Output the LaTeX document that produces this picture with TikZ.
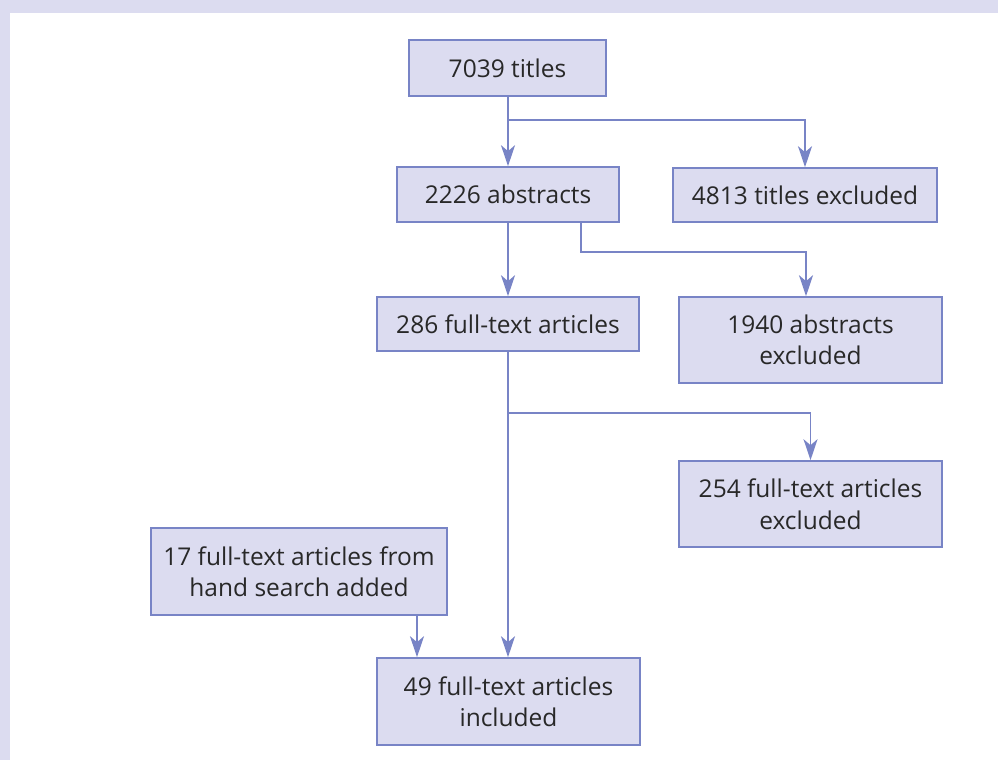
\documentclass[tikz,border=0pt]{standalone}
\usepackage{fontspec}
\setmainfont{Open Sans}
\usetikzlibrary{arrows.meta, positioning, calc}
\definecolor{cFill}{RGB}{220,220,240}
\definecolor{cLine}{RGB}{120,132,198}
\definecolor{cText}{RGB}{40,40,40}

\begin{document}
\begin{tikzpicture}[
      x=1pt, y=-1pt,
      box/.style={draw=cLine, fill=cFill, line width=1.6pt, align=center,
                  inner sep=0pt, text=cText,
                  font=\fontsize{24.5}{31.5}\selectfont},
      ar/.style={-{Stealth[length=21pt, width=14pt, inset=6pt]}, cLine, line width=1.5pt}
    ]
    % frame
    \fill[cFill] (0,0) rectangle (998,760);
    \fill[white] (10,13) rectangle (998,760);
    \useasboundingbox (0,0) rectangle (998,760);

    \node[box, minimum width=197pt, minimum height=56pt] (titles) at (507.5,68) {7039 titles};
    \node[box, minimum width=222pt, minimum height=55pt] (abs) at (508,194.5) {2226 abstracts};
    \node[box, minimum width=264pt, minimum height=54pt] (titlesex) at (805,195) {4813 titles excluded};
    \node[box, minimum width=262pt, minimum height=54pt] (full) at (508,324) {286 full-text articles};
    \node[box, minimum width=263pt, minimum height=86pt] (absex) at (810.5,340) {1940 abstracts\\excluded};
    \node[box, minimum width=263pt, minimum height=86pt] (fullex) at (810.5,504) {254 full-text articles\\excluded};
    \node[box, minimum width=296pt, minimum height=87pt] (hand) at (299,571.5) {17 full-text articles from\\hand search added};
    \node[box, minimum width=263pt, minimum height=87pt] (incl) at (508.5,701.5) {49 full-text articles\\included};

    % branch points
    \coordinate (b1) at (508,120);
    \coordinate (b2) at (581,252);
    \coordinate (b3) at (508,413);
    \coordinate (d1) at (417,0);

    \draw[ar] (titles.south -| b1) -- (abs.north -| b1);
    \draw[ar] (b1) -| (titlesex.north);
    \draw[ar] (abs.south -| b1) -- (full.north -| b1);
    \draw[ar] (abs.south -| b2) -- (b2) -| ($(absex.north)+(-4.5,0)$);
    \draw[ar] (full.south -| b3) -- (incl.north -| b3);
    \draw[ar] (b3) -| (fullex.north);
    \draw[ar] (hand.south -| d1) -- (incl.north -| d1);
  \end{tikzpicture}
\end{document}
